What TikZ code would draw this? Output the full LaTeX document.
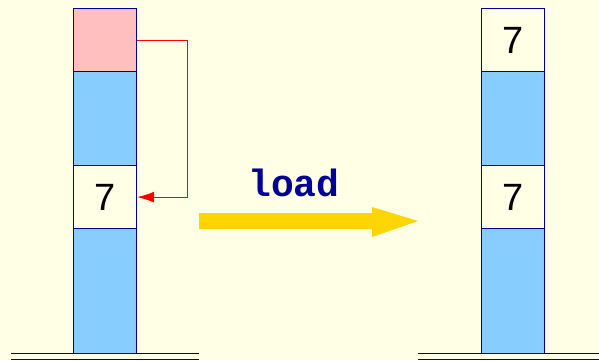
\documentclass[tikz,border=0pt]{standalone}
\usepackage{fontspec}
\setsansfont{Liberation Sans}
\setmonofont{Liberation Mono}
\usetikzlibrary{arrows.meta,positioning}
\definecolor{stPaper}{HTML}{FFFFE6}
\definecolor{stNavy}{HTML}{000099}
\definecolor{stSky}{HTML}{87CEFF}
\definecolor{stPink}{HTML}{FFBFBF}
\definecolor{stRed}{HTML}{FF0000}
\definecolor{stGold}{HTML}{FFD500}
\tikzset{
  st diagram/.style={x=1pt, y=-1pt, line cap=butt, line join=miter},
  st cell/.style={draw=stNavy, line width=1.2pt, minimum width=63pt,
    inner sep=0pt, anchor=north west, font=\sffamily\fontsize{38}{38}\selectfont},
  st empty/.style={st cell, fill=stSky},
  st value/.style={st cell, fill=stPaper},
  st source/.style={st cell, fill=stPink},
  st floor/.style={draw=stNavy, line width=1pt},
  st copy/.style={-{Latex[length=17pt,width=11pt]}, draw=stRed, line width=1pt},
  st label/.style={font=\ttfamily\bfseries\fontsize{38}{38}\selectfont, text=stNavy}
}
\begin{document}
\begin{tikzpicture}[st diagram]
\fill[stPaper] (0,0) rectangle (599,360);
\useasboundingbox (0,0) rectangle (599,360);
% stack before the load
\node[st source, minimum height=63pt] (lpink) at (73,8) {};
\node[st empty, minimum height=94pt] (lblue1) at (73,71) {};
\node[st value, minimum height=63pt] (lseven) at (73,165) {7};
\node[st empty, minimum height=125pt] (lblue2) at (73,228) {};
% stack after the load
\node[st value, minimum height=63pt] (rseven1) at (481,8) {7};
\node[st empty, minimum height=94pt] (rblue1) at (481,71) {};
\node[st value, minimum height=63pt] (rseven2) at (481,165) {7};
\node[st empty, minimum height=125pt] (rblue2) at (481,228) {};
% floors
\draw[st floor] (11,353) -- (199,353);
\draw[st floor] (11,359) -- (199,359);
\draw[st floor] (418,353) -- (599,353);
\draw[st floor] (418,359) -- (599,359);
% copy from the top of the stack
\draw[st copy] (lpink.east) -- ++(50,0) |- (lseven.east);
% big arrow
\coordinate (arrowtail) at (199,221);
\fill[stGold] (arrowtail) ++(0,-8) -- (372,213) -- (372,207) -- (418,221)
  -- (372,237) -- (372,229) -- (199,229) -- cycle;
\node[st label, anchor=base] (loadtext) at (294,196) {load};
\end{tikzpicture}
\end{document}
